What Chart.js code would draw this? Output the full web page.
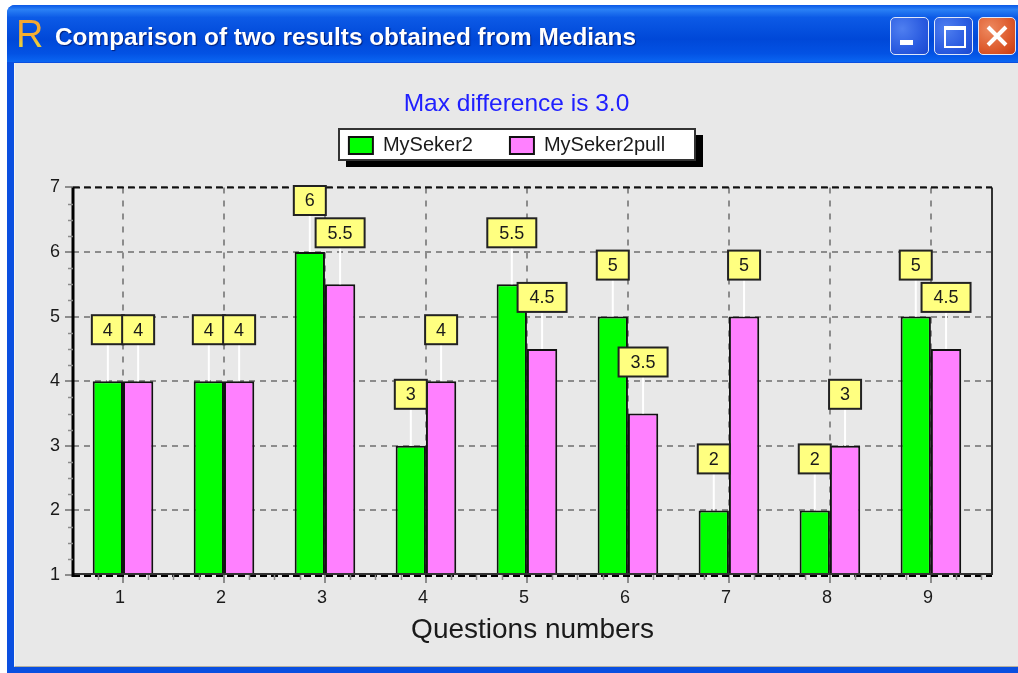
<!DOCTYPE html>
<html>
<head>
<meta charset="utf-8">
<title>Comparison of two results obtained from Medians</title>
<script src="https://cdn.jsdelivr.net/npm/chart.js@4"></script>
<style>
    html, body { margin: 0; padding: 0; background: #fff; }
    body { width: 1018px; height: 673px; position: relative; overflow: hidden; }
    .frame { position: absolute; left: 7px; top: 5px; right: 0; bottom: 0; background: #0a4fe0; border-radius: 8px 0 0 0; }
    .titlebar { position: absolute; left: 7px; top: 5px; right: 0; height: 57px; border-radius: 8px 0 0 0;
        background: linear-gradient(#0a58e6 0%, #2a80f5 8%, #0c5ae6 22%, #0048d8 60%, #0352e4 85%, #0a66f2 100%); }
    .client { position: absolute; left: 14px; top: 63px; right: 0; bottom: 6px; background: #e8e8e8; border-left: 1px solid #f4f4f4; border-bottom: 1px solid #b5b0a0; }
    .icon { position: absolute; left: 16px; top: 12px; font: 38px/44px "Liberation Sans", sans-serif;
        background: linear-gradient(#f5a030 0%, #f5b030 55%, #e8d040 75%, #f09030 100%); -webkit-background-clip: text; background-clip: text; color: transparent; }
    .wintitle { position: absolute; left: 55px; top: 20px; color: #fff; font: bold 24px/34px "Liberation Sans", sans-serif;
        text-shadow: 1px 1px 1px #00207a; white-space: nowrap; transform-origin: left center; }
    .btn { position: absolute; top: 17px; width: 36px; height: 36px; border: 1.5px solid #dfe8fa; border-radius: 5px;
        background: radial-gradient(circle at 30% 30%, #4f7ff0 0%, #2a5be0 60%, #1a48d0 100%); }
    .btn.min { left: 890px; width: 37px; }
    .btn.max { left: 934px; width: 37px; }
    .btn.close { left: 978px; background: radial-gradient(circle at 30% 30%, #ee8a60 0%, #dd5a2c 60%, #c93a10 100%); }
    .btn.min i { position: absolute; left: 9px; top: 22px; width: 13px; height: 5px; background: #fff; }
    .btn.max i { position: absolute; left: 9px; top: 8px; width: 18px; height: 16px; border: 2px solid #fff; border-top-width: 4px; }
    .btn.close svg { position: absolute; left: 7px; top: 7px; }
    #chart { position: absolute; left: 0; top: 0; }
</style>
</head>
<body>
<div class="frame"></div>
<div class="titlebar"></div>
<div class="client"></div>
<div class="icon">R</div>
<div class="wintitle" id="wintitle">Comparison of two results obtained from Medians</div>
<div class="btn min"><i></i></div>
<div class="btn max"><i></i></div>
<div class="btn close"><svg width="22" height="22"><path d="M2 2L20 20M20 2L2 20" stroke="#fff" stroke-width="4"/></svg></div>
<canvas id="chart" width="1018" height="673"></canvas>
<script>
const questions = [1, 2, 3, 4, 5, 6, 7, 8, 9];
const mySeker2 = [4, 4, 6, 3, 5.5, 5, 2, 2, 5];
const mySeker2pull = [4, 4, 5.5, 4, 4.5, 3.5, 5, 3, 4.5];
const yTicks = [1, 2, 3, 4, 5, 6, 7];

const colGreen = '#00ff00';
const colPink = '#ff80ff';
const colGrid = '#8c8c8c';
const colInk = '#1a1a1a';
const fontName = '"Liberation Sans", Arial, sans-serif';

// window title is narrower than any installed bold font, squeeze it to the real width
const wt = document.getElementById('wintitle');
wt.style.transform = `scaleX(${581 / wt.offsetWidth})`;

function dash(ctx, x1, y1, x2, y2, color, width, pattern) {
    ctx.save();
    ctx.strokeStyle = color;
    ctx.lineWidth = width;
    ctx.setLineDash(pattern || []);
    ctx.beginPath();
    ctx.moveTo(x1, y1);
    ctx.lineTo(x2, y2);
    ctx.stroke();
    ctx.restore();
}

const legendBoxPlugin = {
    id: 'legendBox',
    afterLayout(chart) {
        // title and legend do not sit on the same centre in the original
        const t = chart.titleBlock;
        const tShift = 516.5 - (t.left + t.right) / 2;
        t.left += tShift;
        t.right += tShift;
        const l = chart.legend;
        const lShift = 507 - (l.left + l.right) / 2;
        l.left += lShift;
        l.right += lShift;
        l.top -= 22;
        l.bottom -= 22;
    },
    beforeDraw(chart) {
        const ctx = chart.ctx;
        const cx = (chart.legend.left + chart.legend.right) / 2;
        ctx.save();
        ctx.fillStyle = '#000';
        ctx.fillRect(cx - 161, 135, 357, 32);
        ctx.fillStyle = '#fff';
        ctx.strokeStyle = '#333';
        ctx.lineWidth = 2;
        ctx.fillRect(cx - 168, 129, 356, 31);
        ctx.strokeRect(cx - 168, 129, 356, 31);
        ctx.restore();
    }
};

const axisPlugin = {
    id: 'axisExtras',
    afterDatasetsDraw(chart) {
        const ctx = chart.ctx;
        const a = chart.chartArea;
        const xs = chart.scales.x;
        const ys = chart.scales.y;
        // right edge and the two black dashed edges
        dash(ctx, a.right, a.top, a.right, a.bottom, '#333', 2);
        dash(ctx, a.left, a.top, a.right, a.top, '#111', 2, [7, 4]);
        dash(ctx, a.left, a.bottom - 1, a.right, a.bottom - 1, '#333', 2);
        dash(ctx, a.left, a.bottom + 1, a.right, a.bottom + 1, '#000', 2, [7, 4]);
        dash(ctx, a.left, a.top, a.left, a.bottom + 2, '#000', 3);
        // minor ticks, four per unit
        for (let v = 0.75; v < xs.max; v += 0.25) {
            if (Number.isInteger(v)) continue;
            const px = Math.round(xs.getPixelForValue(v)) + 0.5;
            dash(ctx, px, a.bottom, px, a.bottom + 5, colGrid, 1.5);
        }
        for (let v = 1.25; v < ys.max; v += 0.25) {
            if (Number.isInteger(v)) continue;
            const py = Math.round(ys.getPixelForValue(v)) + 0.5;
            dash(ctx, a.left - 5, py, a.left, py, colGrid, 1.5);
        }
    }
};

const calloutPlugin = {
    id: 'callouts',
    afterDatasetsDraw(chart) {
        const ctx = chart.ctx;
        ctx.save();
        ctx.font = '18px ' + fontName;
        ctx.textAlign = 'center';
        ctx.textBaseline = 'middle';
        chart.data.datasets.forEach((ds, d) => {
            chart.getDatasetMeta(d).data.forEach((bar, i) => {
                const txt = String(ds.data[i]);
                const w = txt.length > 1 ? 49 : 32;
                const h = 29;
                const bottom = bar.y - 37;
                dash(ctx, bar.x, bar.y, bar.x, bottom, '#ffffff', 2);
                ctx.fillStyle = '#ffff80';
                ctx.strokeStyle = '#222';
                ctx.lineWidth = 2;
                ctx.fillRect(bar.x - w / 2, bottom - h, w, h);
                ctx.strokeRect(bar.x - w / 2, bottom - h, w, h);
                ctx.fillStyle = colInk;
                ctx.fillText(txt, bar.x, bottom - h / 2 + 1);
            });
        });
        ctx.restore();
    }
};

new Chart(document.getElementById('chart').getContext('2d'), {
    type: 'bar',
    data: {
        labels: questions,
        datasets: [
            { label: 'MySeker2', data: mySeker2, backgroundColor: colGreen, borderColor: '#111', borderWidth: 2 },
            { label: 'MySeker2pull', data: mySeker2pull, backgroundColor: colPink, borderColor: '#111', borderWidth: 2 }
        ]
    },
    options: {
        responsive: false,
        animation: false,
        layout: { padding: { left: 0, right: 26, top: 0, bottom: 0 } },
        datasets: { bar: { categoryPercentage: 0.6, barPercentage: 1 } },
        scales: {
            x: {
                type: 'linear',
                offset: false,
                min: 0.505,
                max: 9.605,
                afterBuildTicks: s => { s.ticks = questions.map(v => ({ value: v })); },
                afterFit: s => { s.height = 98; },
                ticks: { color: colInk, font: { family: fontName, size: 18 }, padding: 4, maxRotation: 0, labelOffset: -3 },
                grid: { offset: false, color: colGrid, lineWidth: 2, tickColor: colGrid, tickLength: 8, tickBorderDash: [] },
                border: { dash: [6, 7], display: false },
                title: {
                    display: true,
                    text: 'Questions numbers',
                    color: colInk,
                    font: { family: fontName, size: 28 },
                    padding: { top: 0, bottom: 26 }
                }
            },
            y: {
                min: 1,
                max: 7,
                afterBuildTicks: s => { s.ticks = yTicks.map(v => ({ value: v })); },
                afterFit: s => { s.width = 73; },
                ticks: { color: colInk, font: { family: fontName, size: 18 }, padding: 5 },
                grid: { color: colGrid, lineWidth: 2, tickColor: colGrid, tickLength: 8, tickBorderDash: [] },
                border: { dash: [6, 5], display: false }
            }
        },
        plugins: {
            title: {
                display: true,
                text: 'Max difference is 3.0',
                color: '#2020ff',
                font: { family: fontName, size: 24.5, weight: 'normal' },
                padding: { top: 90, bottom: 1 }
            },
            legend: {
                display: true,
                labels: {
                    color: colInk,
                    font: { family: fontName, size: 20 },
                    boxWidth: 24,
                    boxHeight: 17,
                    padding: 37
                }
            },
            tooltip: { enabled: false }
        }
    },
    plugins: [legendBoxPlugin, axisPlugin, calloutPlugin]
});
</script>
</body>
</html>
